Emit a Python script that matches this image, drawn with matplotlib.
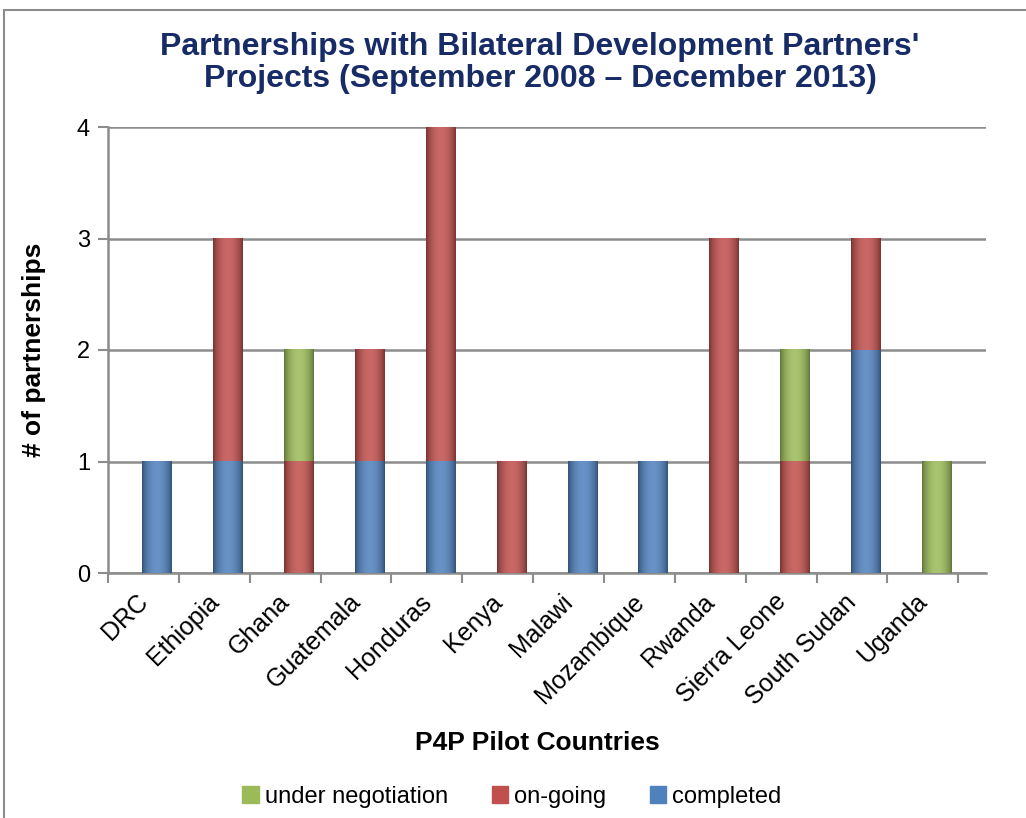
import numpy as np
import matplotlib.pyplot as plt
from matplotlib.patches import Patch, Rectangle
from matplotlib.colors import to_rgb

plt.rcParams['font.family'] = ['Liberation Sans', 'DejaVu Sans']

countries = ['DRC', 'Ethiopia', 'Ghana', 'Guatemala', 'Honduras', 'Kenya', 'Malawi',
             'Mozambique', 'Rwanda', 'Sierra Leone', 'South Sudan', 'Uganda']
completed = [1, 1, 0, 1, 1, 0, 1, 1, 0, 0, 2, 0]
ongoing = [0, 2, 1, 1, 3, 1, 0, 0, 3, 1, 1, 0]
negotiation = [0, 0, 1, 0, 0, 0, 0, 0, 0, 1, 0, 1]

c_blue = '#4F81BD'
c_red = '#C0504D'
c_green = '#9BBB59'

fig = plt.figure(figsize=(10.26, 8.18), dpi=100)
ax = fig.add_axes([108 / 1026, 1 - 573 / 818, 878 / 1026, 446 / 818])

# outer frame
fig.patches.append(Rectangle((4 / 1026, -0.05), 1.2, 1.05 - 10 / 818, transform=fig.transFigure,
                             fill=False, edgecolor='#8c8c8c', linewidth=1.5))

x = np.arange(len(countries))
w = 0.41


def shaded_bars(xs, heights, bottoms, color):
    # cylinder-like shading: dark edges, lighter middle
    base = np.array(to_rgb(color))
    t = np.linspace(0, 1, 60)
    prof = np.sin(np.pi * t) ** 0.7
    dark = base * 0.62
    light = base + (1 - base) * 0.14
    grad = dark[None, :] + (light - dark)[None, :] * prof[:, None]
    img = grad[None, :, :]
    for xi, h, b in zip(xs, heights, bottoms):
        if h <= 0:
            continue
        ax.imshow(img, extent=(xi - w / 2, xi + w / 2, b, b + h), aspect='auto',
                  zorder=3, interpolation='bilinear')


bottom2 = np.array(completed)
bottom3 = bottom2 + np.array(ongoing)
shaded_bars(x, completed, np.zeros(len(x)), c_blue)
shaded_bars(x, ongoing, bottom2, c_red)
shaded_bars(x, negotiation, bottom3, c_green)

ax.set_xlim(-0.685, 11.7)
ax.set_ylim(0, 4)

ax.set_yticks([0, 1, 2, 3, 4])
ax.yaxis.grid(True, color='#8c8c8c', linewidth=1.8)
ax.set_axisbelow(True)
ax.tick_params(axis='y', labelsize=17, length=7, width=1.5, color='#8c8c8c', pad=6)

ax.set_xticks(np.arange(-0.69, 11.5, 1.0), minor=True)
ax.set_xticks(x - 0.30)
ax.set_xticklabels(countries, rotation=45, ha='right', va='top', rotation_mode='anchor', fontsize=18)
ax.tick_params(axis='x', which='major', length=0, pad=12)
ax.tick_params(axis='x', which='minor', length=7, width=1.5, color='#8c8c8c')

for s in ['top', 'right']:
    ax.spines[s].set_visible(False)
for s in ['left', 'bottom']:
    ax.spines[s].set_color('#8c8c8c')
    ax.spines[s].set_linewidth(1.8)

ax.set_ylabel('# of partnerships', fontsize=19, fontweight='bold', labelpad=22)
fig.text(537 / 1026, 1 - 743 / 818, 'P4P Pilot Countries', fontsize=19, fontweight='bold',
         ha='center', va='center')

fig.text(540 / 1026, 1 - 63 / 818,
         "Partnerships with Bilateral Development Partners'\nProjects (September 2008 \u2013 December 2013)",
         fontsize=23, fontweight='bold', color='#172B66', ha='center', va='center', linespacing=1.07)

handles = [Patch(color=c_green), Patch(color=c_red), Patch(color=c_blue)]
fig.legend(handles, ['under negotiation', 'on-going', 'completed'], loc='center',
           bbox_to_anchor=(512 / 1026, 1 - 797 / 818), ncol=3, frameon=False, fontsize=17,
           handlelength=0.7, handleheight=0.7, handletextpad=0.25, columnspacing=1.85)

fig.savefig('out.png', dpi=100)
